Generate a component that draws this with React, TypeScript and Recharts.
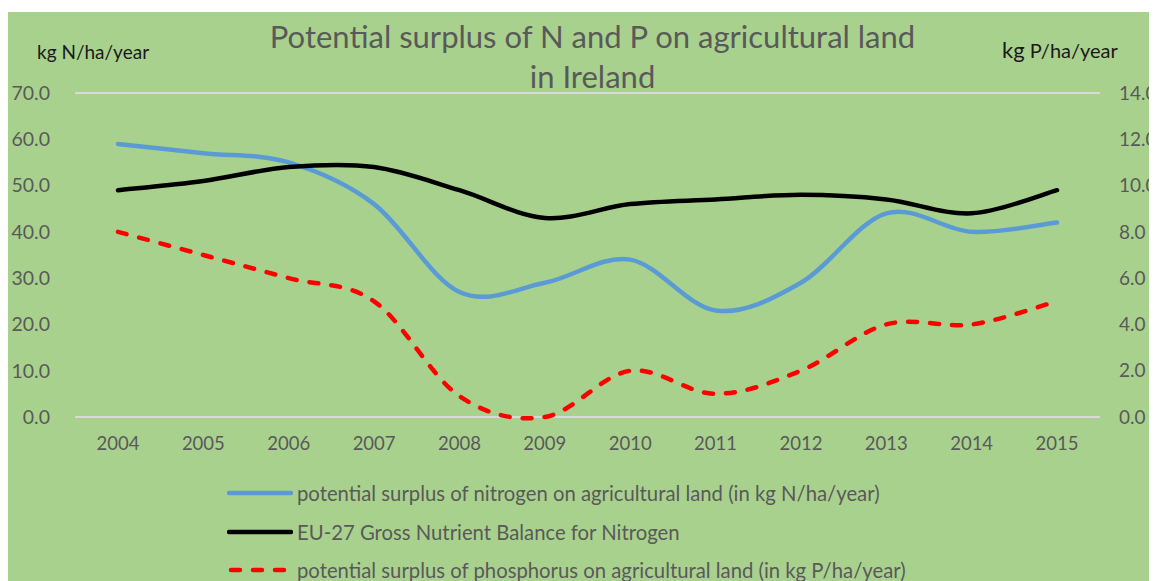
import React from "react";
import { LineChart, Line, XAxis, YAxis, CartesianGrid, Legend } from "recharts";

const years = ["2004", "2005", "2006", "2007", "2008", "2009", "2010", "2011", "2012", "2013", "2014", "2015"];
const nitrogenSurplus = [59, 57, 55, 46, 27, 29, 34, 23, 29, 44, 40, 42];
const euNitrogenBalance = [49, 51, 54, 54, 49, 43, 46, 47, 48, 47, 44, 49];
const phosphorusSurplus = [8, 7, 6, 5, 0.9, 0, 2, 1, 2, 4, 4, 5];
const leftTicks = [0, 10, 20, 30, 40, 50, 60, 70];
const rightTicks = [0, 2, 4, 6, 8, 10, 12, 14];

const seriesInfo = [
  { key: "n", name: "potential surplus of nitrogen on agricultural land (in kg N/ha/year)", color: "#5b9bd5", dash: undefined },
  { key: "eu", name: "EU-27 Gross Nutrient Balance for Nitrogen", color: "#000000", dash: undefined },
  { key: "p", name: "potential surplus of phosphorus on agricultural land (in kg P/ha/year)", color: "#ff0000", dash: "9 13" },
];

const data = years.map((year, i) => ({
  year,
  n: nitrogenSurplus[i],
  eu: euNitrogenBalance[i],
  p: phosphorusSurplus[i],
}));

// smooth line like the spreadsheet one (catmull-rom through every point)
const smoothCurve = (context: any) => {
  let pts: number[][] = [];
  return {
    areaStart() {},
    areaEnd() {},
    lineStart() {
      pts = [];
    },
    point(x: number, y: number) {
      pts.push([+x, +y]);
    },
    lineEnd() {
      const n = pts.length;
      if (!n) return;
      context.moveTo(pts[0][0], pts[0][1]);
      for (let i = 0; i < n - 1; i++) {
        const p0 = pts[Math.max(i - 1, 0)];
        const p1 = pts[i];
        const p2 = pts[i + 1];
        const p3 = pts[Math.min(i + 2, n - 1)];
        context.bezierCurveTo(
          p1[0] + (p2[0] - p0[0]) / 6,
          p1[1] + (p2[1] - p0[1]) / 6,
          p2[0] - (p3[0] - p1[0]) / 6,
          p2[1] - (p3[1] - p1[1]) / 6,
          p2[0],
          p2[1]
        );
      }
    },
  };
};

const FONT = "Lato, 'Open Sans', sans-serif";
const GREY = "#595959";

function LegendBox() {
  return (
    <div style={{ paddingTop: 17, paddingLeft: 219, fontFamily: FONT }}>
      {seriesInfo.map((s) => (
        <div key={s.key} style={{ height: 38.5, display: "flex", alignItems: "center" }}>
          <svg width={66} height={10} style={{ display: "block" }}>
            <line
              x1={s.dash ? 4 : 2}
              y1={5}
              x2={s.dash ? 62 : 64}
              y2={5}
              stroke={s.color}
              strokeWidth={4.5}
              strokeLinecap="round"
              strokeDasharray={s.dash ? "9 13" : undefined}
            />
          </svg>
          <span style={{ marginLeft: 4, fontSize: 20.3, color: GREY, whiteSpace: "nowrap" }}>{s.name}</span>
        </div>
      ))}
    </div>
  );
}

export default function App() {
  return (
    <div
      style={{
        position: "relative",
        width: 1149,
        height: 569,
        marginTop: 4,
        background: "#a9d18e",
        fontFamily: FONT,
        overflow: "hidden",
      }}
    >
      <div
        style={{
          position: "absolute",
          top: 4,
          left: 0,
          width: 1169,
          textAlign: "center",
          fontSize: 31,
          lineHeight: "40px",
          color: GREY,
        }}
      >
        Potential surplus of N and P on agricultural land
        <br />
        in Ireland
      </div>
      <div style={{ position: "absolute", top: 28, left: 29, fontSize: 19, color: "#1a1a1a" }}>kg N/ha/year</div>
      <div style={{ position: "absolute", top: 24, left: 994, color: "#1a1a1a", whiteSpace: "nowrap" }}>
        <span style={{ fontSize: 22 }}>kg</span>
        <span style={{ fontSize: 20 }}> P/ha/year</span>
      </div>
      <LineChart width={1149} height={569} data={data} margin={{ top: 81, right: 0, bottom: 0, left: 0 }}>
        <CartesianGrid vertical={false} stroke="#d9d9d9" strokeWidth={2} />
        <XAxis
          dataKey="year"
          axisLine={false}
          tickLine={false}
          tickSize={0}
          tickMargin={20}
          height={40}
          padding={{ left: 43, right: 43 }}
          tick={{ fill: GREY, fontSize: 18.5, fontFamily: FONT }}
        />
        <YAxis
          yAxisId="left"
          domain={[0, 70]}
          ticks={leftTicks}
          width={67}
          axisLine={false}
          tickLine={false}
          tickSize={0}
          tickMargin={25}
          tickFormatter={(v: number) => v.toFixed(1)}
          tick={{ fill: GREY, fontSize: 19.5, fontFamily: FONT }}
        />
        <YAxis
          yAxisId="right"
          orientation="right"
          domain={[0, 14]}
          ticks={rightTicks}
          width={57}
          axisLine={false}
          tickLine={false}
          tickSize={0}
          tickMargin={19}
          tickFormatter={(v: number) => v.toFixed(1)}
          tick={{ fill: GREY, fontSize: 19, fontFamily: FONT, textAnchor: "start" }}
        />
        <Legend
          verticalAlign="bottom"
          content={() => <LegendBox />}
          wrapperStyle={{ height: 124, width: 1149, left: 0, bottom: 0 }}
        />
        <Line
          yAxisId="left"
          dataKey="n"
          name={seriesInfo[0].name}
          type={smoothCurve as any}
          stroke="#5b9bd5"
          strokeWidth={4.5}
          strokeLinecap="round"
          dot={false}
          activeDot={false}
          isAnimationActive={false}
        />
        <Line
          yAxisId="left"
          dataKey="eu"
          name={seriesInfo[1].name}
          type={smoothCurve as any}
          stroke="#000000"
          strokeWidth={4.5}
          strokeLinecap="round"
          dot={false}
          activeDot={false}
          isAnimationActive={false}
        />
        <Line
          yAxisId="right"
          dataKey="p"
          name={seriesInfo[2].name}
          type={smoothCurve as any}
          stroke="#ff0000"
          strokeWidth={4.5}
          strokeLinecap="round"
          strokeDasharray="9 13"
          dot={false}
          activeDot={false}
          isAnimationActive={false}
        />
      </LineChart>
    </div>
  );
}
